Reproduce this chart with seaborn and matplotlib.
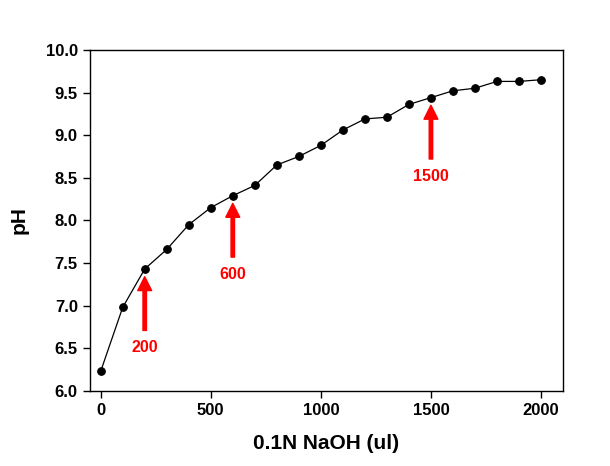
import numpy as np
import pandas as pd
import seaborn as sns
import matplotlib
matplotlib.use("Agg")
import matplotlib.pyplot as plt

naoh = [0, 100, 200, 300, 400, 500, 600, 700, 800, 900, 1000,
        1100, 1200, 1300, 1400, 1500, 1600, 1700, 1800, 1900, 2000]
ph = [6.23, 6.98, 7.43, 7.66, 7.95, 8.15, 8.29, 8.41, 8.65, 8.75, 8.88,
      9.06, 9.19, 9.21, 9.36, 9.44, 9.52, 9.55, 9.63, 9.63, 9.65]
arrow_x = [200, 600, 1500]
arrow_labels = ["200", "600", "1500"]

df = pd.DataFrame({"NaOH": naoh, "pH": ph})

sns.set_style("ticks")
plt.rcParams['font.family'] = ['Liberation Sans', 'DejaVu Sans']
plt.rcParams['font.weight'] = 'bold'
plt.rcParams['text.color'] = 'black'
plt.rcParams['axes.labelcolor'] = 'black'

fig = plt.figure(figsize=(6.1, 4.66), dpi=100)
ax = fig.add_axes([0.147, 0.161, 0.776, 0.732])

sns.lineplot(data=df, x="NaOH", y="pH", ax=ax, color="black", linewidth=0.9,
             marker="o", markersize=5.5, markeredgecolor="black")

# red arrows under selected points
for xv, lab in zip(arrow_x, arrow_labels):
    yv = ph[naoh.index(xv)]
    ax.annotate("", xy=(xv, yv - 0.09), xytext=(xv, yv - 0.72),
                arrowprops=dict(facecolor="red", edgecolor="red", width=2.5,
                                headwidth=10, headlength=10))
    ax.text(xv, yv - 0.92, lab, color="red", fontsize=11.5, fontweight="bold",
            ha="center", va="center")

ax.set_xlim(-50, 2100)
ax.set_ylim(6.0, 10.0)
ax.set_xticks([0, 500, 1000, 1500, 2000])
ax.set_yticks(np.arange(6.0, 10.01, 0.5))
ax.set_yticklabels([f"{v:.1f}" for v in np.arange(6.0, 10.01, 0.5)])
ax.tick_params(direction="out", length=5, width=1, labelsize=12, colors="black")
for lbl in ax.get_xticklabels() + ax.get_yticklabels():
    lbl.set_fontweight("bold")
for s in ax.spines.values():
    s.set_visible(True)
    s.set_color("black")
    s.set_linewidth(1)

ax.set_xlabel("0.1N NaOH (ul)", fontsize=15, fontweight="bold", labelpad=12,
              color="black")
ax.set_ylabel("pH", fontsize=15, fontweight="bold", labelpad=12, color="black")

fig.savefig("out.png", dpi=100)
